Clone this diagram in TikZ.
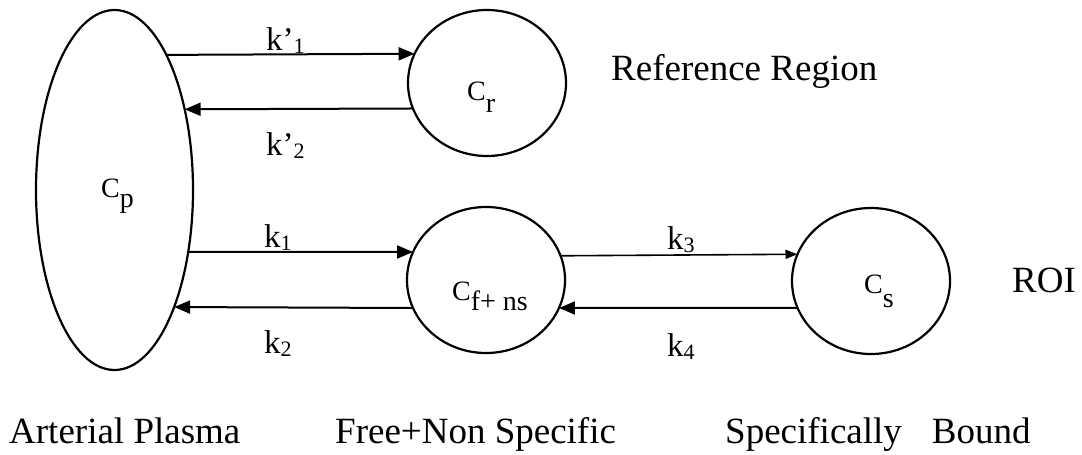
\documentclass[tikz,border=0pt]{standalone}
\usepackage{fontspec}
\setmainfont{Liberation Serif}
\usetikzlibrary{arrows.meta,shapes.geometric}
\tikzset{
  comp/.style={draw, ellipse, line width=2.2pt, inner sep=0pt, outer sep=0pt,
               minimum width=158pt, minimum height=146pt},
  flow/.style={line width=2pt, -{Triangle[length=16pt,width=13pt]}},
  flowthin/.style={line width=1.6pt, -{Triangle[length=12pt,width=9pt]}},
  txt/.style={anchor=base west, inner sep=0pt, font=\fontsize{37}{40}\selectfont},
  sym/.style={anchor=base west, inner sep=0pt, font=\fontsize{28}{30}\selectfont},
  rate/.style={anchor=base west, inner sep=0pt, font=\fontsize{33}{36}\selectfont},
}
% lowered subscript of a compartment symbol
\newcommand{\lowsub}[2][-11pt]{\raisebox{#1}{#2}}
% small lowered index of a rate constant
\newcommand{\ratesub}[1]{\raisebox{-3pt}{\fontsize{22}{22}\selectfont #1}}
\begin{document}
\begin{tikzpicture}[x=1pt,y=-1pt]
\useasboundingbox (0,0) rectangle (1082,455);

% compartments
\node[comp, minimum width=157pt, minimum height=360pt] (cp) at (114.5,190) {};
\node[comp] (cr) at (487,83) {};
\node[comp] (cf) at (486,280) {};
\node[comp] (cs) at (871,281) {};

% compartment symbols
\node[sym] (lcp) at (101,197) {C\lowsub[-10pt]{p}};
\node[sym] (lcr) at (467,100) {C\lowsub[-12pt]{r}};
\node[sym] (lcf) at (452,300) {C\lowsub[-10pt]{f+ ns}};
\node[sym] (lcs) at (864,293) {C\lowsub[-14pt]{s}};

% exchange between compartments
\draw[flow] (cp.69.29) -- (cr.158.2);
\draw[flow] (cr.199.41) -- (cp.49.13);
\draw[flow] (cp.-40.07) -- (cf.159);
\draw[flow] (cf.201) -- (cp.-63.32);
\draw[flowthin] (cf.18.62) -- (cs.160.59);
\draw[flow] (cs.200.19) -- (cf.-21);

% rate constants
\node[rate] (k1r) at (266,50) {k’\ratesub{1}};
\node[rate] (k2r) at (266,155) {k’\ratesub{2}};
\node[rate] (k1) at (264,247) {k\ratesub{1}};
\node[rate] (k2) at (264,353) {k\ratesub{2}};
\node[rate] (k3) at (667,249) {k\ratesub{3}};
\node[rate] (k4) at (667,356) {k\ratesub{4}};

% region captions
\node[txt] (refreg) at (611,80) {Reference Region};
\node[txt] (roi) at (1012,292) {ROI};
\node[txt] (art) at (9,443) {Arterial Plasma};
\node[txt] (free) at (335,443) {Free+Non Specific};
\node[txt] (spec) at (725,443) {Specifically\hspace{30pt}Bound};
\end{tikzpicture}
\end{document}
